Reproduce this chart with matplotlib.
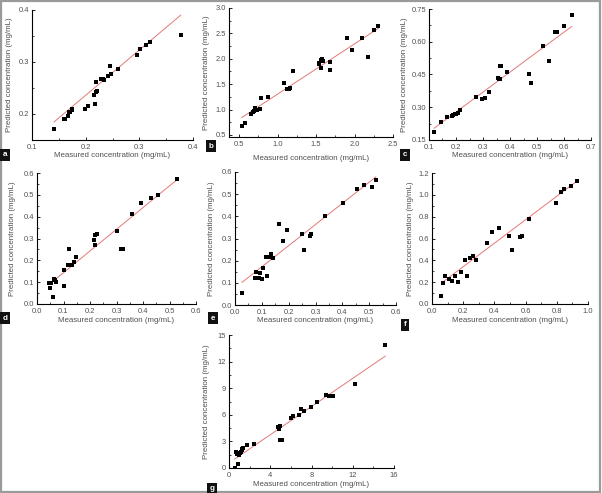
import matplotlib
matplotlib.use("Agg")
import matplotlib.pyplot as plt
import numpy as np
from matplotlib.ticker import AutoMinorLocator, FormatStrFormatter, FixedLocator
from matplotlib.patches import Rectangle

plt.rcParams['font.family'] = ['Liberation Sans', 'DejaVu Sans']

# ---------------- data ----------------
a_x = [0.141, 0.160, 0.162, 0.167, 0.169, 0.171, 0.174, 0.175, 0.199, 0.204, 0.217, 0.215, 0.220,
       0.222, 0.220, 0.229, 0.232, 0.234, 0.242, 0.245, 0.248, 0.261, 0.295, 0.301, 0.312, 0.319, 0.377]
a_y = [0.172, 0.190, 0.190, 0.196, 0.203, 0.204, 0.207, 0.209, 0.210, 0.216, 0.219, 0.237, 0.242,
       0.244, 0.262, 0.268, 0.267, 0.266, 0.274, 0.292, 0.276, 0.287, 0.314, 0.325, 0.333, 0.338, 0.351]

b_x = [0.535, 0.582, 0.656, 0.682, 0.699, 0.708, 0.729, 0.768, 0.790, 0.881, 1.084, 1.123, 1.145,
       1.162, 1.201, 1.535, 1.543, 1.561, 1.569, 1.574, 1.587, 1.682, 1.682, 1.907, 1.963, 2.102,
       2.175, 2.253, 2.310]
b_y = [0.675, 0.727, 0.922, 0.948, 0.974, 1.039, 0.994, 1.006, 1.221, 1.247, 1.519, 1.396, 1.403,
       1.416, 1.766, 1.896, 1.922, 1.818, 1.968, 2.000, 1.955, 1.935, 1.773, 2.403, 2.182, 2.403,
       2.032, 2.565, 2.649]

c_x = [0.119, 0.144, 0.165, 0.185, 0.190, 0.196, 0.201, 0.206, 0.216, 0.275, 0.295, 0.306, 0.324,
       0.356, 0.360, 0.364, 0.363, 0.368, 0.388, 0.470, 0.478, 0.523, 0.543, 0.566, 0.573, 0.601, 0.629]
c_y = [0.185, 0.231, 0.257, 0.262, 0.265, 0.268, 0.271, 0.274, 0.286, 0.346, 0.337, 0.341, 0.370,
       0.433, 0.429, 0.430, 0.488, 0.490, 0.462, 0.453, 0.412, 0.582, 0.513, 0.644, 0.644, 0.671, 0.723]

d_x = [0.044, 0.051, 0.049, 0.062, 0.066, 0.069, 0.072, 0.101, 0.102, 0.116, 0.122, 0.133, 0.141,
       0.148, 0.215, 0.217, 0.220, 0.226, 0.302, 0.316, 0.324, 0.360, 0.391, 0.431, 0.458, 0.530]
d_y = [0.094, 0.094, 0.073, 0.030, 0.114, 0.110, 0.102, 0.084, 0.158, 0.178, 0.254, 0.177, 0.193,
       0.213, 0.295, 0.318, 0.268, 0.320, 0.333, 0.251, 0.251, 0.411, 0.464, 0.487, 0.501, 0.571]

e_x = [0.026, 0.073, 0.079, 0.084, 0.091, 0.094, 0.100, 0.103, 0.114, 0.118, 0.127, 0.135, 0.143,
       0.165, 0.179, 0.195, 0.249, 0.257, 0.278, 0.285, 0.337, 0.404, 0.453, 0.479, 0.509, 0.525]
e_y = [0.054, 0.121, 0.148, 0.121, 0.124, 0.145, 0.117, 0.166, 0.217, 0.132, 0.217, 0.229, 0.214,
       0.365, 0.290, 0.337, 0.322, 0.250, 0.313, 0.319, 0.401, 0.461, 0.525, 0.543, 0.534, 0.563]

f_x = [0.060, 0.073, 0.084, 0.108, 0.129, 0.146, 0.166, 0.185, 0.213, 0.224, 0.243, 0.265, 0.280,
       0.353, 0.387, 0.430, 0.495, 0.514, 0.563, 0.578, 0.622, 0.794, 0.828, 0.849, 0.888, 0.929]
f_y = [0.073, 0.189, 0.253, 0.232, 0.213, 0.256, 0.201, 0.296, 0.402, 0.253, 0.418, 0.442, 0.402,
       0.561, 0.659, 0.695, 0.625, 0.491, 0.610, 0.619, 0.780, 0.921, 1.024, 1.052, 1.079, 1.125]

g_x = [0.55, 0.65, 0.81, 0.87, 0.97, 1.10, 1.20, 1.26, 1.29, 1.39, 1.75, 2.46, 4.76, 4.85, 4.92,
       4.98, 5.15, 6.02, 6.25, 6.80, 7.02, 7.31, 7.96, 8.51, 9.45, 9.68, 10.10, 12.17, 15.15]
g_y = [0.04, 1.76, 1.61, 0.49, 1.50, 1.69, 1.80, 1.99, 2.17, 2.21, 2.59, 2.70, 4.57, 4.39, 4.69,
       3.11, 3.15, 5.62, 5.81, 6.00, 6.64, 6.45, 6.86, 7.42, 8.21, 8.10, 8.10, 9.45, 13.84]

# regression lines: slope, intercept
fit_slope = [0.87, 0.99, 0.915, 0.994, 0.954, 1.075, 0.795]
fit_intercept = [0.062, 0.313, 0.095, 0.044, 0.077, 0.127, 0.57]

panel_letters = ['a', 'b', 'c', 'd', 'e', 'f', 'g']

x_ticks = [[0.1, 0.2, 0.3, 0.4], [0.5, 1.0, 1.5, 2.0, 2.5], [0.1, 0.2, 0.3, 0.4, 0.5, 0.6, 0.7],
           [0.0, 0.1, 0.2, 0.3, 0.4, 0.5, 0.6], [0.0, 0.1, 0.2, 0.3, 0.4, 0.5, 0.6],
           [0.0, 0.2, 0.4, 0.6, 0.8, 1.0], [0, 4, 8, 12, 16]]
y_ticks = [[0.2, 0.3, 0.4], [0.5, 1.0, 1.5, 2.0, 2.5, 3.0], [0.15, 0.30, 0.45, 0.60, 0.75],
           [0.0, 0.1, 0.2, 0.3, 0.4, 0.5, 0.6], [0.0, 0.1, 0.2, 0.3, 0.4, 0.5, 0.6],
           [0.0, 0.2, 0.4, 0.6, 0.8, 1.0, 1.2], [0, 3, 6, 9, 12, 15]]
x_fmt = ['%.1f', '%.1f', '%.1f', '%.1f', '%.1f', '%.1f', '%d']
y_fmt = ['%.1f', '%.1f', '%.2f', '%.1f', '%.1f', '%.1f', '%d']
x_lims = [(0.1, 0.4), (0.37, 2.5), (0.1, 0.7), (0.0, 0.6), (0.0, 0.6), (0.0, 1.0), (0, 16)]
y_lims = [(0.15, 0.4), (0.46, 3.0), (0.15, 0.75), (0.0, 0.6), (0.0, 0.6), (0.0, 1.2), (0, 15)]

xlabel = 'Measured concentration (mg/mL)'
ylabel = 'Predicted concentration (mg/mL)'

# ---------------- layout (pixels) ----------------
W, H = 602, 493
# left, right, top, bottom of each axes box
boxes = [(32, 193, 10, 140), (229, 393, 8, 137), (429, 591, 9, 140),
         (37, 196, 173, 304), (235, 396, 172, 305), (432, 588, 173, 304),
         (229, 394, 335, 468)]
letter_pos = [(5, 155), (211, 146), (405, 155), (5, 318), (213, 318), (405, 325), (212, 489)]
xlabel_y = [156, 158, 156, 320, 320, 320, 485]
ylabel_x = [10, 206, 405, 13, 212, 411, 207]

fig = plt.figure(figsize=(W / 100, H / 100), dpi=100)
fig.patch.set_facecolor('white')

xs = [a_x, b_x, c_x, d_x, e_x, f_x, g_x]
ys = [a_y, b_y, c_y, d_y, e_y, f_y, g_y]

txt_col = '#505050'
fs = 5.4

for i in range(7):
    l, r, t, b = boxes[i]
    ax = fig.add_axes([l / W, 1 - b / H, (r - l) / W, (b - t) / H])
    x = np.array(xs[i]); y = np.array(ys[i])
    xx = np.array([x.min(), x.max()])
    ax.plot(xx, fit_slope[i] * xx + fit_intercept[i], color='#e37878', lw=0.7, zorder=2)
    ax.plot(x, y, 's', color='black', ms=2.6, mew=0, zorder=3)
    ax.set_xlim(*x_lims[i]); ax.set_ylim(*y_lims[i])
    ax.xaxis.set_major_locator(FixedLocator(x_ticks[i]))
    ax.yaxis.set_major_locator(FixedLocator(y_ticks[i]))
    ax.xaxis.set_major_formatter(FormatStrFormatter(x_fmt[i]))
    ax.yaxis.set_major_formatter(FormatStrFormatter(y_fmt[i]))
    ax.xaxis.set_minor_locator(AutoMinorLocator(2))
    ax.yaxis.set_minor_locator(AutoMinorLocator(2))
    for s in ['top', 'right']:
        ax.spines[s].set_visible(False)
    for s in ['left', 'bottom']:
        ax.spines[s].set_linewidth(0.8)
        ax.spines[s].set_color('black')
    ax.tick_params(which='major', direction='in', length=2.2, width=0.6, labelsize=fs,
                   labelcolor=txt_col)
    ax.tick_params(axis='x', which='major', pad=2.6)
    ax.tick_params(axis='y', which='major', pad=2.0)
    ax.tick_params(which='minor', direction='in', length=1.2, width=0.5)
    ax.set_facecolor('none')
    ax.patch.set_alpha(0)
    # axis labels
    fig.text((l + r) / 2 / W, 1 - xlabel_y[i] / H, xlabel, ha='center', va='center',
             fontsize=fs + 0.3, color=txt_col)
    fig.text(ylabel_x[i] / W, 1 - (t + b) / 2 / H, ylabel, ha='center', va='center',
             rotation=90, fontsize=fs + 0.3, color=txt_col)
    # panel letter
    lx, ly = letter_pos[i]
    fig.text(lx / W, 1 - ly / H, panel_letters[i], ha='center', va='center',
             fontsize=5.8, color='white', fontweight='bold',
             bbox=dict(boxstyle='square,pad=0.3', fc='#111111', ec='none'))

# outer grey border
fig.patches.append(Rectangle((0.0015, 0.002), 0.996, 0.996, transform=fig.transFigure,
                             fill=False, ec='#9a9a9a', lw=1.6))

fig.savefig('out.png', dpi=100, facecolor='white')
